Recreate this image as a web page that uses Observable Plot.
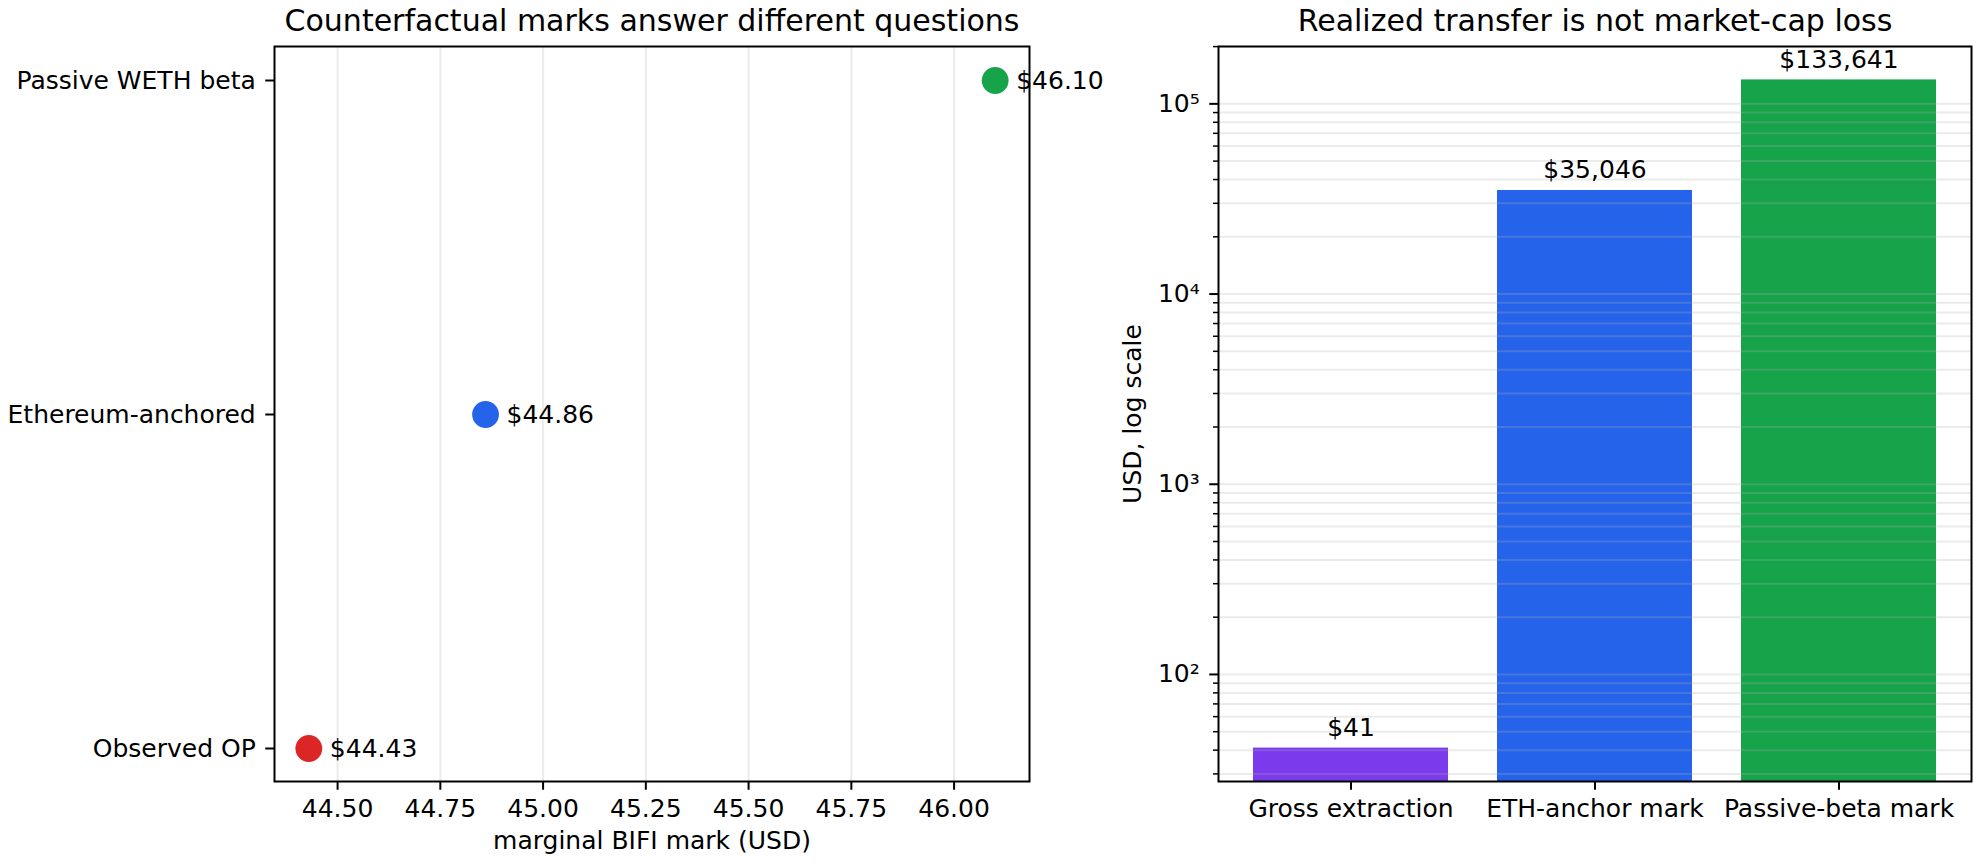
<!DOCTYPE html>
<html><head><meta charset="utf-8">
<script src="https://cdn.jsdelivr.net/npm/d3@7"></script>
<script src="https://cdn.jsdelivr.net/npm/@observablehq/plot@0.6"></script>
<style>
body{margin:0;background:#fff;}
#wrap{position:relative;width:1980px;height:864px;overflow:hidden;background:#fff;}
#left{position:absolute;left:0;top:0;z-index:2;}
#right{position:absolute;left:1100px;top:0;z-index:1;}
svg{overflow:visible;}
</style></head><body><div id="wrap"><div id="left"></div><div id="right"></div></div>
<script>
// ---- data: left panel ----
const markCats = ["Passive WETH beta", "Ethereum-anchored", "Observed OP"];
const markValues = [46.10, 44.86, 44.43];
const markColors = ["#16a34a", "#2563eb", "#dc2626"];
const markLabels = ["$46.10", "$44.86", "$44.43"];
const xTicks = [44.50, 44.75, 45.00, 45.25, 45.50, 45.75, 46.00];
const leftTitle = "Counterfactual marks answer different questions";
const leftXLabel = "marginal BIFI mark (USD)";

// ---- data: right panel ----
const barCats = ["Gross extraction", "ETH-anchor mark", "Passive-beta mark"];
const barValues = [41, 35046, 133641];
const barColors = ["#7c3aed", "#2563eb", "#16a34a"];
const barLabels = ["$41", "$35,046", "$133,641"];
const yMajor = [100, 1000, 10000, 100000];
const yMajorLabels = ["10²", "10³", "10⁴", "10⁵"];
const rightTitle = "Realized transfer is not market-cap loss";
const rightYLabel = "USD, log scale";

const FONT = "DejaVu Sans";
const GRID = {stroke: "#b0b0b0", strokeOpacity: 0.25, strokeWidth: 2};

// ---- left plot ----
const markData = markCats.map((c, i) => ({cat: c, value: markValues[i], label: markLabels[i]}));
const xMin = d3.min(markValues), xMax = d3.max(markValues), xPad = (xMax - xMin) * 0.05;

const left = Plot.plot({
  width: 1100, height: 864,
  marginLeft: 274, marginRight: 71, marginTop: 46, marginBottom: 83,
  style: {fontFamily: FONT, fontSize: "25px", background: "transparent", color: "black", overflow: "visible"},
  x: {domain: [xMin - xPad, xMax + xPad], axis: null},
  y: {type: "point", domain: markCats, padding: 0.1, axis: null},
  color: {domain: markCats, range: markColors},
  marks: [
    Plot.gridX(xTicks, GRID),
    Plot.dot(markData, {x: "value", y: "cat", r: 13.4, fill: "cat"}),
    Plot.text(markData, {x: "value", y: "cat", text: "label", dx: 21, textAnchor: "start", lineAnchor: "middle", fontSize: 25}),
    Plot.frame({stroke: "black", strokeWidth: 2}),
    Plot.axisX(xTicks, {tickFormat: d => d.toFixed(2), tickSize: 8.75, tickPadding: 9, strokeWidth: 2, fontSize: 25, label: null}),
    Plot.axisY({tickSize: 8.75, tickPadding: 10, strokeWidth: 2, fontSize: 25, label: null}),
    Plot.text([leftXLabel], {frameAnchor: "bottom", lineAnchor: "middle", textAnchor: "middle", dy: 59.3, fontSize: 25}),
    Plot.text([leftTitle], {frameAnchor: "top", lineAnchor: "middle", textAnchor: "middle", dy: -25.6, fontSize: 30})
  ]
});
document.getElementById("left").appendChild(left);

// ---- right plot ----
const barData = barCats.map((c, i) => ({cat: c, value: barValues[i], label: barLabels[i]}));
const lmin = Math.log10(d3.min(barValues)), lmax = Math.log10(d3.max(barValues)), lpad = (lmax - lmin) * 0.05;
const yDomain = [Math.pow(10, lmin - lpad), Math.pow(10, lmax + lpad)];
const yAll = d3.scaleLog().domain(yDomain).ticks();
const yMinor = yAll.filter(v => !yMajor.includes(v));

const right = Plot.plot({
  width: 880, height: 864,
  marginLeft: 118, marginRight: 9, marginTop: 46, marginBottom: 83,
  style: {fontFamily: FONT, fontSize: "25px", background: "transparent", color: "black", overflow: "visible"},
  x: {domain: barCats, paddingInner: 0.2, paddingOuter: 0.14, axis: null},
  y: {type: "log", domain: yDomain, axis: null},
  color: {domain: barCats, range: barColors},
  marks: [
    Plot.barY(barData, {x: "cat", y1: yDomain[0], y2: "value", fill: "cat"}),
    Plot.gridY(yAll, GRID),
    Plot.text(barData, {x: "cat", y: "value", text: "label", dy: -20, lineAnchor: "middle", textAnchor: "middle", fontSize: 25}),
    Plot.frame({stroke: "black", strokeWidth: 2}),
    Plot.axisY(yMinor, {tickSize: 5, tickFormat: () => "", strokeWidth: 1.5, label: null}),
    Plot.axisY(yMajor, {tickSize: 8.75, tickPadding: 10, strokeWidth: 2, fontSize: 25, label: null,
      tickFormat: d => yMajorLabels[yMajor.indexOf(d)]}),
    Plot.axisX({tickSize: 8.75, tickPadding: 9, strokeWidth: 2, fontSize: 25, label: null}),
    Plot.text([rightYLabel], {frameAnchor: "left", rotate: -90, dx: -85.3, lineAnchor: "middle", textAnchor: "middle", fontSize: 25}),
    Plot.text([rightTitle], {frameAnchor: "top", lineAnchor: "middle", textAnchor: "middle", dy: -25.6, fontSize: 30})
  ]
});
document.getElementById("right").appendChild(right);
</script></body></html>
